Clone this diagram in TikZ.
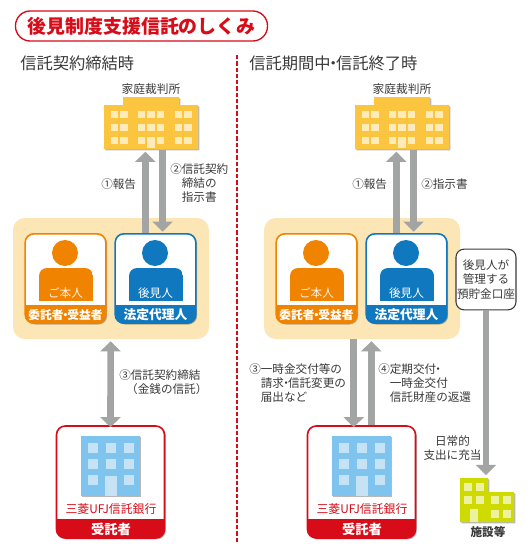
\documentclass[tikz,border=0pt]{standalone}
\usepackage{fontspec}
\setmainfont{Noto Sans CJK JP}
\usetikzlibrary{arrows.meta,shadows}
\definecolor{ink}{HTML}{3A3A3A}
\definecolor{redm}{HTML}{D80C18}
\definecolor{orangem}{HTML}{F08300}
\definecolor{bluem}{HTML}{0F78BE}
\definecolor{panelc}{HTML}{FDE6B6}
\definecolor{courtc}{HTML}{FBC53F}
\definecolor{courtw}{HTML}{FEEBB8}
\definecolor{bankc}{HTML}{7FC4EE}
\definecolor{bankw}{HTML}{C6E3F6}
\definecolor{facc}{HTML}{CFDB00}
\definecolor{facw}{HTML}{EDF2A0}
\definecolor{arrowc}{HTML}{A3A4A4}
\newcommand\nd{\hspace{-.33em}・\hspace{-.33em}}
\tikzset{
  softshadow/.style={drop shadow={shadow xshift=1pt,shadow yshift=-1pt,fill=black,opacity=.28}},
  cardbox/.style={rectangle,rounded corners=6.5pt,fill=white,line width=1.2pt,minimum width=60.5pt,minimum height=67pt,inner sep=0pt,softshadow},
  bandtext/.style={text=white,font=\fontsize{9.2}{11}\selectfont\bfseries,inner sep=0pt},
  label/.style={text=ink,font=\fontsize{8.7}{10.6}\selectfont,inner sep=0pt,align=left,anchor=west},
  clabel/.style={text=ink,font=\fontsize{8.7}{10.6}\selectfont,inner sep=0pt,align=center},
  blockarrow/.style={draw=arrowc,line width=4.9pt,-{Triangle[length=7.6pt,width=15pt]}},
  blockboth/.style={draw=arrowc,line width=4.9pt,{Triangle[length=7.6pt,width=15pt]}-{Triangle[length=7.6pt,width=15pt]}},
}
% a band along the bottom of a card, its lower corners following the card
\newcommand\cardband[5]{%
  \begin{scope}
    \clip[rounded corners=6.5pt] (#2,#3-40) rectangle (#4,#5);
    \fill[#1] (#2,#3) rectangle (#4,#5);
  \end{scope}}
% a person: head and shoulders
\newcommand\person[2]{%
  \fill[#1] (#2,253) circle[radius=13];
  \begin{scope}
    \clip[rounded corners=6pt] (#2-26,268) rectangle (#2+28,320);
    \fill[#1] (#2-26,268) rectangle (#2+28,301);
  \end{scope}}
% shared part: court, panel, cards, bank and the two upper arrows
\newcommand\commonpart{%
  \fill[courtc,softshadow] (104,105) -- (123,105) -- (123,97) -- (179,97) -- (179,105) -- (198,105) -- (198,149) -- (104,149) -- cycle;
  \node[inner sep=0pt,minimum width=70.5pt,minimum height=33pt] (court) at (151,127.5) {};
  \foreach \wx in {111,120.3,138,147.3,157,174.7,184.3}
    \foreach \wy in {110.7,124,137}
      \fill[courtw] (\wx,\wy) rectangle ++(7.3,7.3);
  \fill[courtw] (147.3,137) rectangle (155,147.7);
  \node[clabel,font=\fontsize{8.8}{10.6}\selectfont] (courtname) at (151,89) {家庭裁判所};
  \node[rectangle,rounded corners=9pt,fill=panelc,minimum width=147pt,minimum height=90.75pt,inner sep=0pt] (panel) at (111,278.5) {};
  \coordinate (upx) at (145.3,0);
  \coordinate (downx) at (162.6,0);
  \node[cardbox,draw=orangem] (owner) at (65.5,278.5) {};
  \node[cardbox,draw=bluem] (guard) at (155.5,278.5) {};
  \draw[blockarrow] (upx |- guard.north) -- ([yshift=-1.5pt]upx |- court.south);
  \draw[blockarrow] (downx |- court.south) -- ([yshift=1pt]downx |- guard.north);
  \cardband{orangem}{25}{305}{106}{323.5}
  \cardband{bluem}{115}{305}{196}{323.5}
  \person{orangem}{65}
  \person{bluem}{155}
  \node[clabel,text=white,opacity=.9] (ownername) at (65.5,293) {ご本人};
  \node[clabel,text=white] (guardname) at (155.5,293) {後見人};
  \node[bandtext,font=\fontsize{8.8}{11}\selectfont\bfseries] (ownerrole) at (65.5,315) {委託者\nd 受益者};
  \node[bandtext,font=\fontsize{9.6}{11}\selectfont\bfseries] (guardrole) at (155.5,315) {法定代理人};
  \node[cardbox,draw=redm,minimum width=81pt,minimum height=84pt] (bank) at (110.5,482) {};
  \cardband{redm}{56}{519}{165}{538}
  \fill[bankc,softshadow] (81,436) rectangle (140,496);
  \foreach \wx in {88,106,124}
    \foreach \wy in {443,459}
      \fill[bankw] (\wx,\wy) rectangle ++(9.5,9.5);
  \fill[bankw] (88,475) rectangle ++(9.5,9.5);
  \fill[bankw] (124,475) rectangle ++(9.5,9.5);
  \fill[bankw] (105,476) rectangle (117,496);
  \node[clabel,text=redm,font=\fontsize{8.9}{11}\selectfont] (bankname) at (111,509) {三菱UFJ信託銀行};
  \node[bandtext,font=\fontsize{10}{11}\selectfont\bfseries] (bankrole) at (111,529) {受託者};
}
\begin{document}
\begin{tikzpicture}[x=.75pt,y=-.75pt]
\useasboundingbox (0,0) rectangle (530,553);
\fill[white] (0,0) rectangle (530,553);
% title
\node[rectangle,rounded corners=11pt,draw=redm,line width=1pt,fill=white,minimum width=189pt,minimum height=22.5pt,inner sep=0pt,text=redm,font=\fontsize{14.2}{16}\selectfont\bfseries] (title) at (141.5,26) {後見制度支援信託のしくみ};
% headings
\node[label,font=\fontsize{12.2}{14}\selectfont] (headL) at (20,63) {信託契約締結時};
\node[label,font=\fontsize{12.2}{14}\selectfont] (headR) at (249,63) {信託期間中\nd 信託終了時};
% divider
\coordinate (divtop) at (237,55);
\coordinate (divbot) at (237,543);
\draw[redm,line width=1.2pt,dash pattern=on 3.2pt off 1.5pt] (divtop) -- (divbot);
% left
\begin{scope}[name prefix=l-]
  \commonpart
  \draw[blockboth] (panel.south) ++(-.4,2) -- ([yshift=-1.5pt,xshift=-.4pt]bank.north -| panel.south);
  \node[label] (n1) at (101,184) {①報告};
  \node[label,anchor=north west] (n2) at (170,163) {②信託契約\\\hspace{1em}締結の\\\hspace{1em}指示書};
  \node[label,anchor=north west] (n3) at (119,369) {③信託契約締結\\\hspace{.6em}（金銭の信託）};
\end{scope}
% right
\begin{scope}[shift={(251,0)},name prefix=r-]
  \commonpart
  \node[label] (n1) at (101,184) {①報告};
  \node[label] (n2) at (170,184) {②指示書};
\end{scope}
\coordinate (dnx) at (353.7,0);
\coordinate (upr) at (371.3,0);
\draw[blockarrow] (dnx |- r-panel.south) -- ([yshift=-1.5pt]dnx |- r-bank.north);
\draw[blockarrow] (upr |- r-bank.north) -- ([yshift=-1.5pt]upr |- r-panel.south);
\node[label,anchor=north west] (n3) at (249,363) {③一時金交付等の\\\hspace{1em}請求\nd 信託変更の\\\hspace{1em}届出など};
\node[label,anchor=north west] (n4) at (378,363) {④定期交付\nd\\\hspace{1em}一時金交付\\\hspace{1em}信託財産の返還};
% account
\node[rectangle,rounded corners=6pt,draw=ink,line width=.8pt,fill=white,minimum width=45pt,minimum height=45.5pt,inner sep=0pt,text=ink,font=\fontsize{8.7}{10.6}\selectfont,align=center] (acct) at (486,279.5) {後見人が\\管理する\\預貯金口座};
% facility
\fill[facc,softshadow] (460,478) -- (488,478) -- (488,492) -- (514,492) -- (514,522) -- (460,522) -- cycle;
\node[inner sep=0pt,minimum width=40.5pt,minimum height=33pt] (fac) at (487,500) {};
\foreach \wx/\wy in {464/483,476/483,464/496,476/496,491/496,503/496,491/510,503/510}
  \fill[facw] (\wx,\wy) rectangle ++(8,8);
\fill[facw] (470,509) rectangle (478,522);
\draw[blockarrow,shorten >=2pt] (acct.south) -- (acct.south |- fac.north);
\node[clabel] (n5) at (452.5,448) {日常的\\支出に充当};
\node[clabel,font=\fontsize{8.7}{10.6}\selectfont\bfseries] (facname) at (488,532) {施設等};
\end{tikzpicture}
\end{document}
